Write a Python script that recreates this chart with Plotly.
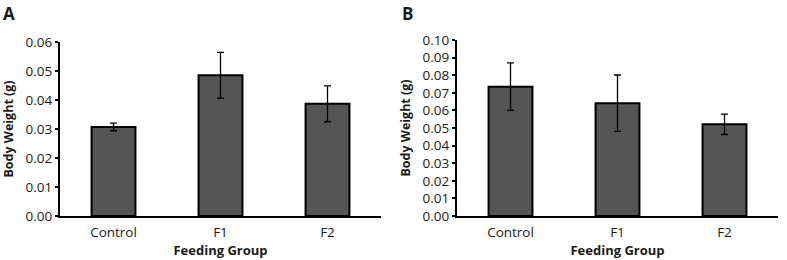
import plotly.graph_objects as go

categories = ["Control", "F1", "F2"]
weight_a = [0.0307, 0.0485, 0.0387]
err_a = [0.0013, 0.0079, 0.0062]
weight_b = [0.0735, 0.0641, 0.0521]
err_b = [0.0135, 0.0160, 0.0058]
panel_labels = ["A", "B"]
yticks_a = [0, 0.01, 0.02, 0.03, 0.04, 0.05, 0.06]
yticks_b = [0, 0.01, 0.02, 0.03, 0.04, 0.05, 0.06, 0.07, 0.08, 0.09, 0.10]

W, H = 787, 260
FONT = "Open Sans"
BAR = "#555555"
TXT = "#1a1a1a"

fig = go.Figure()

def bar_trace(y, e, xa, ya):
    return go.Bar(
        x=categories, y=y, width=0.41, xaxis=xa, yaxis=ya,
        marker=dict(color=BAR, line=dict(color="black", width=2)),
        error_y=dict(type="data", array=e, visible=True, color="black",
                     thickness=1.3, width=3.5),
        showlegend=False,
    )

fig.add_trace(bar_trace(weight_a, err_a, "x", "y"))
fig.add_trace(bar_trace(weight_b, err_b, "x2", "y2"))

def xaxis(domain, anchor):
    return dict(domain=domain, anchor=anchor, range=[-0.5, 2.5],
                automargin=False,
                showline=True, linecolor="black", linewidth=2, ticks="",
                showgrid=False, zeroline=False, ticklabelstandoff=3,
                tickfont=dict(family=FONT, size=13.5, color=TXT),
                title=dict(text="<b>Feeding Group</b>", standoff=5,
                           font=dict(family=FONT, size=13, color=TXT)))

def yaxis(domain, anchor, ticks, top):
    return dict(domain=domain, anchor=anchor, range=[0, top],
                automargin=False,
                tickvals=ticks, tickformat=".2f",
                showline=True, linecolor="black", linewidth=2,
                ticks="outside", ticklen=3, tickwidth=2, tickcolor="black",
                showgrid=False, zeroline=False,
                tickfont=dict(family=FONT, size=13.5, color=TXT),
                title=dict(text="<b>Body Weight (g)</b>", standoff=9,
                           font=dict(family=FONT, size=12.5, color=TXT)))

fig.update_layout(
    width=W, height=H,
    margin=dict(l=0, r=0, t=0, b=0, autoexpand=False),
    paper_bgcolor="white", plot_bgcolor="white",
    xaxis=xaxis([60 / W, 381 / W], "y"),
    yaxis=yaxis([1 - 216 / H, 1 - 42 / H], "x", yticks_a, 0.06),
    xaxis2=xaxis([457 / W, 778 / W], "y2"),
    yaxis2=yaxis([1 - 216 / H, 1 - 40 / H], "x2", yticks_b, 0.10),
    annotations=[
        dict(text="<b>" + panel_labels[0] + "</b>", x=1 / W, y=1 - 0 / H,
             xref="paper", yref="paper", xanchor="left", yanchor="top",
             showarrow=False, font=dict(family=FONT, size=17, color=TXT)),
        dict(text="<b>" + panel_labels[1] + "</b>", x=400 / W, y=1 - 0 / H,
             xref="paper", yref="paper", xanchor="left", yanchor="top",
             showarrow=False, font=dict(family=FONT, size=17, color=TXT)),
    ],
)

fig.write_html("out.html", config={"displayModeBar": False},
               post_script="document.body.style.margin='0';document.body.style.overflow='hidden';")
